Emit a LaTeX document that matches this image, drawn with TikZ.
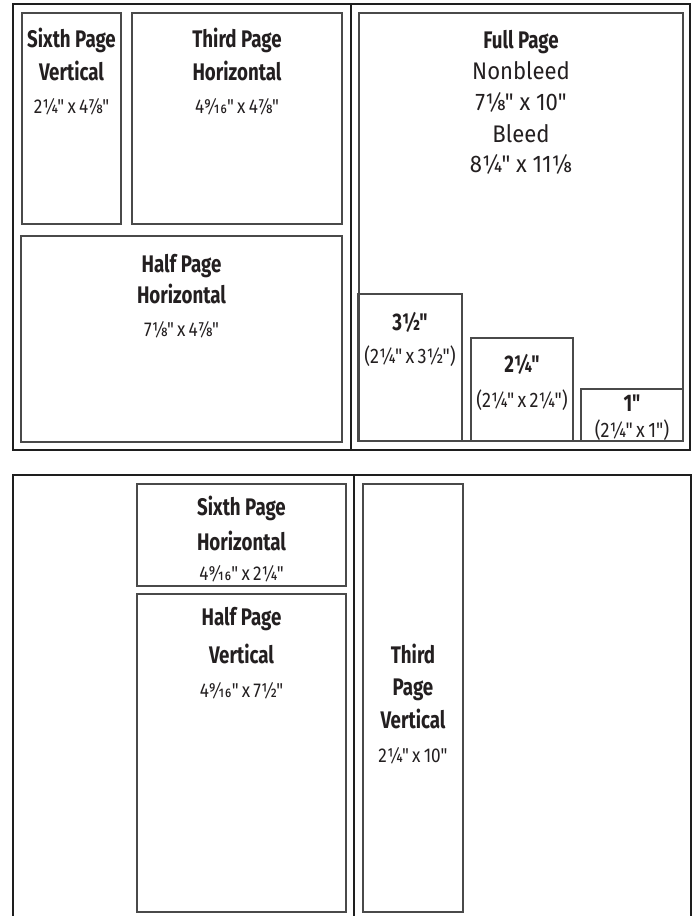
\documentclass[tikz,border=0pt]{standalone}
\usepackage{fontspec}
\setmainfont{Fira Sans}
\newfontfamily\ttlfont[FakeStretch=0.78]{Fira Sans}
\newfontfamily\dimfont[FakeStretch=0.86]{Fira Sans}
\newfontfamily\fracfont[FakeStretch=0.86,Fractions=On]{Fira Sans}
\newfontfamily\fullfont[FakeStretch=0.92]{Fira Sans}
\newcommand\tsp{\hspace{0.16em}}
\definecolor{frameC}{HTML}{1E1E1E}
\definecolor{boxC}{HTML}{4A4A4A}
\definecolor{txtC}{HTML}{231F20}
\tikzset{
  frameline/.style={draw=frameC,line width=1.5pt},
  adbox/.style={draw=boxC,line width=1.1pt},
  ttl/.style={anchor=base,inner sep=0pt,text=txtC,font=\ttlfont\bfseries\fontsize{24}{24}\selectfont},
  dimtxt/.style={anchor=base,inner sep=0pt,text=txtC,font=\dimfont\fontsize{20}{20}\selectfont},
  fulltxt/.style={anchor=base,inner sep=0pt,text=txtC,font=\fullfont\fontsize{24}{24}\selectfont},
  insdim/.style={anchor=base,inner sep=0pt,text=txtC,font=\dimfont\fontsize{21}{21}\selectfont}
}
\begin{document}
\begin{tikzpicture}[x=1pt,y=-1pt]
\useasboundingbox (0,0) rectangle (696,916);
% top frame
\draw[frameline] (13,4) rectangle (690,450);
\draw[frameline] (351,4) -- (351,450);
% bottom frame (open at bottom)
\draw[frameline] (13,916) -- (13,475) -- (691,475) -- (691,916);
\draw[frameline] (354,475) -- (354,916);
% top-left boxes
\draw[adbox] (22,13) rectangle (121,224);
\draw[adbox] (132,13) rectangle (342,224);
\draw[adbox] (21,236) rectangle (342,442);
% full page and inserts
\draw[adbox] (359,13) rectangle (683,441);
\draw[adbox] (358,294) rectangle (462,441);
\draw[adbox] (471,338) rectangle (573,441);
\draw[adbox] (581,389) rectangle (683,441);
% bottom boxes
\draw[adbox] (137,484) rectangle (346,586);
\draw[adbox] (137,594) rectangle (346,912);
\draw[adbox] (363,484) rectangle (463,912);

% texts
\node[ttl] (svA) at (71.5,47) {Sixth Page};
\node[ttl] (svB) at (71.5,80) {Vertical};
\node[dimtxt] (svC) at (71.5,113) {2¼"\tsp x\tsp 4⅞"};

\node[ttl] (thA) at (237,47) {Third Page};
\node[ttl] (thB) at (237,80) {Horizontal};
\node[dimtxt] (thC) at (237,113) {4{\fracfont 9/16}"\tsp x\tsp 4⅞"};

\node[ttl] (hhA) at (181.5,272) {Half Page};
\node[ttl] (hhB) at (181.5,303) {Horizontal};
\node[dimtxt] (hhC) at (181.5,336) {7⅛"\tsp x\tsp 4⅞"};

\node[ttl] (fpA) at (521,48) {Full Page};
\node[fulltxt] (fpB) at (521,79) {Nonbleed};
\node[fulltxt] (fpC) at (521,110) {7⅛" x 10"};
\node[fulltxt] (fpD) at (521,142) {Bleed};
\node[fulltxt] (fpE) at (521,172) {8¼" x 11⅛};

\node[ttl] (tqA) at (410,330) {3½"};
\node[insdim] (tqB) at (410,363) {(2¼"\tsp x\tsp 3½")};
\node[ttl] (sqA) at (522,372) {2¼"};
\node[insdim] (sqB) at (522,407) {(2¼"\tsp x\tsp 2¼")};
\node[ttl] (oqA) at (632,411) {1"};
\node[insdim] (oqB) at (632,437) {(2¼"\tsp x\tsp 1")};

\node[ttl] (shA) at (241.5,515) {Sixth Page};
\node[ttl] (shB) at (241.5,550) {Horizontal};
\node[dimtxt] (shC) at (241.5,580) {4{\fracfont 9/16}"\tsp x\tsp 2¼"};

\node[ttl] (hvA) at (241.5,625) {Half Page};
\node[ttl] (hvB) at (241.5,663) {Vertical};
\node[dimtxt] (hvC) at (241.5,697) {4{\fracfont 9/16}"\tsp x\tsp 7½"};

\node[ttl] (tvA) at (413,663) {Third};
\node[ttl] (tvB) at (413,695) {Page};
\node[ttl] (tvC) at (413,728) {Vertical};
\node[dimtxt] (tvD) at (413,762) {2¼"\tsp x\tsp 10"};
\end{tikzpicture}
\end{document}
